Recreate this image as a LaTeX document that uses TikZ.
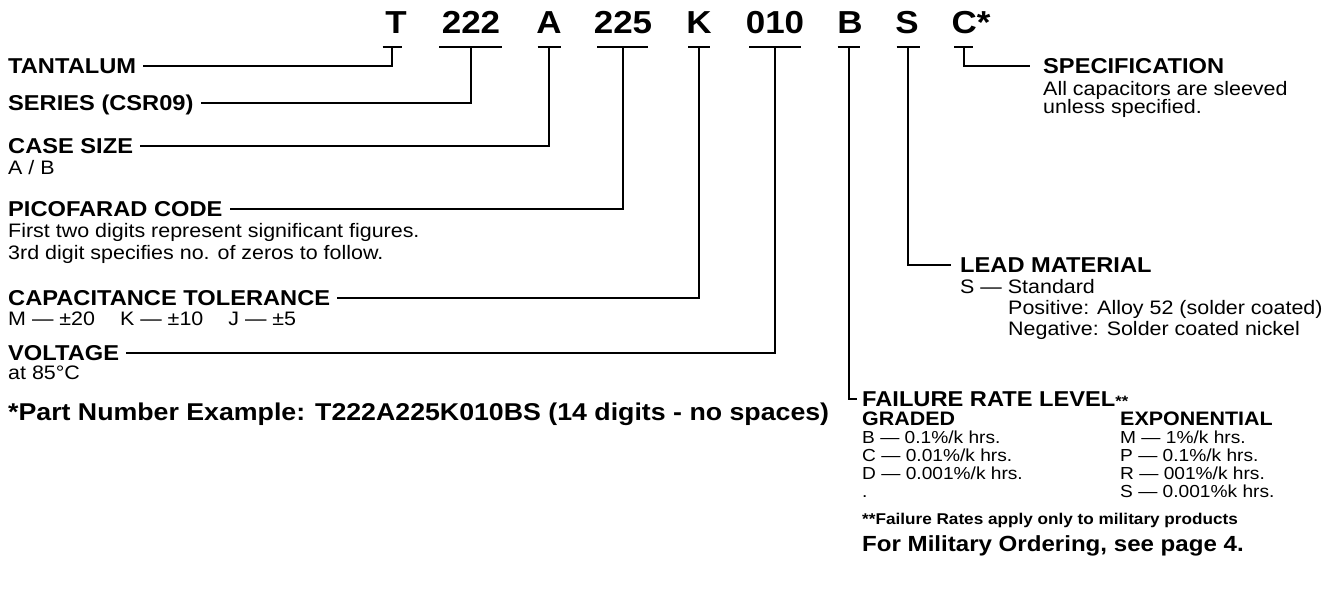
\documentclass[tikz,border=0pt]{standalone}
\usepackage{fontspec}
\setmainfont{Liberation Sans}[FakeStretch=1.1]
\newcommand\myCode{\bfseries\fontsize{31.8}{34}\selectfont}
\newcommand\myHead{\bfseries\fontsize{21.5}{24}\selectfont}
\newcommand\mySub{\bfseries\fontsize{19.5}{22}\selectfont}
\newcommand\myTxt{\fontsize{19.5}{22}\selectfont}
\newcommand\myRow{\fontsize{17.4}{20}\selectfont}
\newcommand\myNote{\bfseries\fontsize{15.6}{18}\selectfont}
\newcommand\myBig{\bfseries\fontsize{21.9}{24}\selectfont}
\newcommand\myPart{\bfseries\fontsize{24.3}{27}\selectfont}
\begin{document}
\begin{tikzpicture}[x=1pt,y=-1pt,
  code/.style={inner sep=0pt, anchor=base, font=\myCode},
  head/.style={inner sep=0pt, anchor=west, text height=15.4pt, text depth=0pt, font=\myHead},
  txt/.style={inner sep=0pt, anchor=base west, font=\myTxt},
  sub/.style={inner sep=0pt, anchor=base west, font=\mySub},
  row/.style={inner sep=0pt, anchor=base west, font=\myRow},
  ln/.style={line width=2pt}]
\useasboundingbox (0,0) rectangle (1332,600);

% part-number codes
\node[code] (cT) at (396,33) {T};
\node[code] (c222) at (471,33) {222};
\node[code] (cA) at (549,33) {A};
\node[code] (c225) at (623,33) {225};
\node[code] (cK) at (699,33) {K};
\node[code] (c010) at (775,33) {010};
\node[code] (cB) at (850,33) {B};
\node[code] (cS) at (907,33) {S};
\node[code, anchor=base west] (cC) at (951.5,33) {C*};

% tee points under the codes
\coordinate (tT) at (392,47);
\coordinate (t222) at (471,47);
\coordinate (tA) at (549,47);
\coordinate (t225) at (623,47);
\coordinate (tK) at (699,47);
\coordinate (t010) at (775,47);
\coordinate (tB) at (849,47);
\coordinate (tS) at (908,47);
\coordinate (tC) at (964,47);

\draw[ln] ([xshift=-9.5pt]tT) -- ([xshift=9.5pt]tT);
\draw[ln] ([xshift=-32pt]t222) -- ([xshift=31pt]t222);
\draw[ln] ([xshift=-11.5pt]tA) -- ([xshift=11.5pt]tA);
\draw[ln] ([xshift=-26pt]t225) -- ([xshift=25pt]t225);
\draw[ln] ([xshift=-11pt]tK) -- ([xshift=11pt]tK);
\draw[ln] ([xshift=-26pt]t010) -- ([xshift=26pt]t010);
\draw[ln] ([xshift=-11.5pt]tB) -- ([xshift=11pt]tB);
\draw[ln] ([xshift=-11.5pt]tS) -- ([xshift=11.5pt]tS);
\draw[ln] ([xshift=-10pt]tC) -- ([xshift=9pt]tC);

% left labels
\node[head] (lTan) at (8,66) {TANTALUM};
\node[head] (lSer) at (8,103) {SERIES (CSR09)};
\node[head] (lCase) at (8,146) {CASE SIZE};
\node[txt] (tCase) at (8,174) {A / B};
\node[head] (lPico) at (8,209) {PICOFARAD CODE};
\node[txt] (tPico1) at (8,237) {First two digits represent significant figures.};
\node[txt] (tPico2) at (8,259) {3rd digit specifies no. of zeros to follow.};
\node[head] (lTol) at (8,298) {CAPACITANCE TOLERANCE};
\node[txt] (tTol) at (8,325) {M — ±20\hspace{25pt}K — ±10\hspace{25pt}J — ±5};
\node[head] (lVolt) at (8,353) {VOLTAGE};
\node[txt] (tVolt) at (8,379) {at 85°C};
\node[inner sep=0pt, anchor=base west, font=\myPart] (part) at (8,420) {*Part Number Example: T222A225K010BS (14 digits - no spaces)};

% right labels
\node[head] (lSpec) at (1043,66) {SPECIFICATION};
\node[txt] (tSpec1) at (1043,95) {All capacitors are sleeved};
\node[txt] (tSpec2) at (1043,113) {unless specified.};
\node[head] (lLead) at (960,265) {LEAD MATERIAL};
\node[txt] (tLead1) at (960,293) {S — Standard};
\node[txt] (tLead2) at (1008,314) {Positive: Alloy 52 (solder coated)};
\node[txt] (tLead3) at (1008,335) {Negative: Solder coated nickel};
\node[head] (lFail) at (862,399) {FAILURE RATE LEVEL{\fontsize{15}{15}\selectfont**}};
\node[sub] (gr) at (862,425) {GRADED};
\node[sub] (ex) at (1120,425) {EXPONENTIAL};
\node[row] (g1) at (862,443) {B — 0.1\%/k hrs.};
\node[row] (g2) at (862,461) {C — 0.01\%/k hrs.};
\node[row] (g3) at (862,479) {D — 0.001\%/k hrs.};
\node[row] (g4) at (862,497) {.};
\node[row] (e1) at (1120,443) {M — 1\%/k hrs.};
\node[row] (e2) at (1120,461) {P — 0.1\%/k hrs.};
\node[row] (e3) at (1120,479) {R — 001\%/k hrs.};
\node[row] (e4) at (1120,497) {S — 0.001\%k hrs.};
\node[inner sep=0pt, anchor=base west, font=\myNote] (note) at (862,524) {**Failure Rates apply only to military products};
\node[inner sep=0pt, anchor=base west, font=\myBig] (mil) at (862,551) {For Military Ordering, see page 4.};

% connectors
\draw[ln] (tT) |- ([xshift=7pt]lTan.east);
\draw[ln] (t222) |- ([xshift=7pt]lSer.east);
\draw[ln] (tA) |- ([xshift=7pt]lCase.east);
\draw[ln] (t225) |- ([xshift=7pt]lPico.east);
\draw[ln] (tK) |- ([xshift=7pt]lTol.east);
\draw[ln] (t010) |- ([xshift=7pt]lVolt.east);
\draw[ln] (tB) |- ([xshift=-5pt]lFail.west);
\draw[ln] (tS) |- ([xshift=-9pt]lLead.west);
\draw[ln] (tC) |- ([xshift=-13pt]lSpec.west);
\end{tikzpicture}
\end{document}
